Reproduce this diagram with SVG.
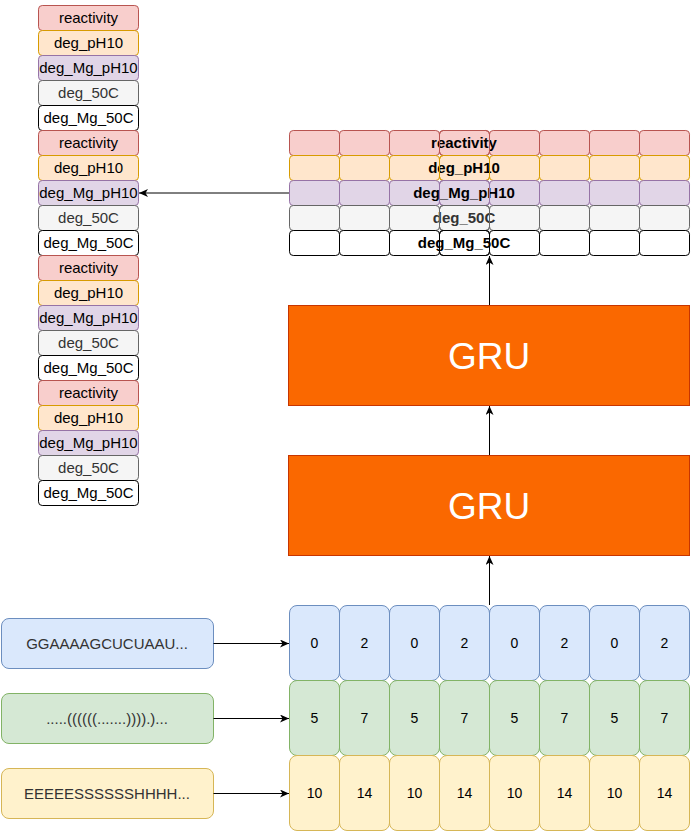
<svg xmlns="http://www.w3.org/2000/svg" width="692" height="833" viewBox="0 0 692 833">
<style>
text{font-family:"Liberation Sans",Arial,Helvetica,sans-serif;text-anchor:middle}
.t15{font-size:15px}
.t14{font-size:14px}
.b{font-weight:bold}
.r{fill:#f8cecc;stroke:#b85450}
.o{fill:#ffe6cc;stroke:#d79b00}
.p{fill:#e1d5e7;stroke:#9673a6}
.g{fill:#f5f5f5;stroke:#666666}
.w{fill:#ffffff;stroke:#000000}
.ro{fill:none;stroke:#b85450}
.oo{fill:none;stroke:#d79b00}
.po{fill:none;stroke:#9673a6}
.go{fill:none;stroke:#666666}
.wo{fill:none;stroke:#000000}
.bl{fill:#dae8fc;stroke:#6c8ebf}
.gr{fill:#d5e8d4;stroke:#82b366}
.ye{fill:#fff2cc;stroke:#d6b656}
.gru{fill:#fa6800;stroke:#c73500}
.gt{fill:#ffffff;font-size:37px}
.dk{fill:#333333}
.edge{stroke:#000;stroke-width:1;fill:none;marker-end:url(#arr)}
</style>
<defs>
<marker id="arr" markerUnits="userSpaceOnUse" viewBox="0 0 9 8" refX="9" refY="4" markerWidth="9" markerHeight="8" orient="auto">
<path d="M0,0 L9,4 L0,8 L2.5,4 Z" fill="#000"/>
</marker>
<g id="colc">
<rect class="r" x="0" y="0" width="100" height="25" rx="3.75"/>
<text class="t15" x="50" y="17.5">reactivity</text>
<rect class="o" x="0" y="25" width="100" height="25" rx="3.75"/>
<text class="t15" x="50" y="42.5">deg_pH10</text>
<rect class="p" x="0" y="50" width="100" height="25" rx="3.75"/>
<text class="t15" x="50" y="67.5">deg_Mg_pH10</text>
<rect class="g" x="0" y="75" width="100" height="25" rx="3.75"/>
<text class="t15 dk" x="50" y="92.5">deg_50C</text>
<rect class="w" x="0" y="100" width="100" height="25" rx="3.75"/>
<text class="t15" x="50" y="117.5">deg_Mg_50C</text>
</g>
</defs>

<g id="left-column">
<use href="#colc" x="38.5" y="5.5"/>
<use href="#colc" x="38.5" y="130.5"/>
<use href="#colc" x="38.5" y="255.5"/>
<use href="#colc" x="38.5" y="380.5"/>
</g>

<g id="output-table">
<g id="row-reactivity">
<rect class="r" x="289.5" y="130.5" width="50" height="25" rx="3.75"/><rect class="r" x="339.5" y="130.5" width="50" height="25" rx="3.75"/><rect class="r" x="389.5" y="130.5" width="50" height="25" rx="3.75"/><rect class="r" x="439.5" y="130.5" width="50" height="25" rx="3.75"/><rect class="r" x="489.5" y="130.5" width="50" height="25" rx="3.75"/><rect class="r" x="539.5" y="130.5" width="50" height="25" rx="3.75"/><rect class="r" x="589.5" y="130.5" width="50" height="25" rx="3.75"/><rect class="r" x="639.5" y="130.5" width="50" height="25" rx="3.75"/>
<text class="t15 b" x="464" y="148">reactivity</text>
<rect class="ro" x="439.5" y="130.5" width="50" height="25" rx="3.75"/>
</g>
<g id="row-deg_pH10">
<rect class="o" x="289.5" y="155.5" width="50" height="25" rx="3.75"/><rect class="o" x="339.5" y="155.5" width="50" height="25" rx="3.75"/><rect class="o" x="389.5" y="155.5" width="50" height="25" rx="3.75"/><rect class="o" x="439.5" y="155.5" width="50" height="25" rx="3.75"/><rect class="o" x="489.5" y="155.5" width="50" height="25" rx="3.75"/><rect class="o" x="539.5" y="155.5" width="50" height="25" rx="3.75"/><rect class="o" x="589.5" y="155.5" width="50" height="25" rx="3.75"/><rect class="o" x="639.5" y="155.5" width="50" height="25" rx="3.75"/>
<text class="t15 b" x="464" y="173">deg_pH10</text>
<rect class="oo" x="439.5" y="155.5" width="50" height="25" rx="3.75"/>
</g>
<g id="row-deg_Mg_pH10">
<rect class="p" x="289.5" y="180.5" width="50" height="25" rx="3.75"/><rect class="p" x="339.5" y="180.5" width="50" height="25" rx="3.75"/><rect class="p" x="389.5" y="180.5" width="50" height="25" rx="3.75"/><rect class="p" x="439.5" y="180.5" width="50" height="25" rx="3.75"/><rect class="p" x="489.5" y="180.5" width="50" height="25" rx="3.75"/><rect class="p" x="539.5" y="180.5" width="50" height="25" rx="3.75"/><rect class="p" x="589.5" y="180.5" width="50" height="25" rx="3.75"/><rect class="p" x="639.5" y="180.5" width="50" height="25" rx="3.75"/>
<text class="t15 b" x="464" y="198">deg_Mg_pH10</text>
<rect class="po" x="439.5" y="180.5" width="50" height="25" rx="3.75"/>
</g>
<g id="row-deg_50C">
<rect class="g" x="289.5" y="205.5" width="50" height="25" rx="3.75"/><rect class="g" x="339.5" y="205.5" width="50" height="25" rx="3.75"/><rect class="g" x="389.5" y="205.5" width="50" height="25" rx="3.75"/><rect class="g" x="439.5" y="205.5" width="50" height="25" rx="3.75"/><rect class="g" x="489.5" y="205.5" width="50" height="25" rx="3.75"/><rect class="g" x="539.5" y="205.5" width="50" height="25" rx="3.75"/><rect class="g" x="589.5" y="205.5" width="50" height="25" rx="3.75"/><rect class="g" x="639.5" y="205.5" width="50" height="25" rx="3.75"/>
<text class="t15 b dk" x="464" y="223">deg_50C</text>
<rect class="go" x="439.5" y="205.5" width="50" height="25" rx="3.75"/>
</g>
<g id="row-deg_Mg_50C">
<rect class="w" x="289.5" y="230.5" width="50" height="25" rx="3.75"/><rect class="w" x="339.5" y="230.5" width="50" height="25" rx="3.75"/><rect class="w" x="389.5" y="230.5" width="50" height="25" rx="3.75"/><rect class="w" x="439.5" y="230.5" width="50" height="25" rx="3.75"/><rect class="w" x="489.5" y="230.5" width="50" height="25" rx="3.75"/><rect class="w" x="539.5" y="230.5" width="50" height="25" rx="3.75"/><rect class="w" x="589.5" y="230.5" width="50" height="25" rx="3.75"/><rect class="w" x="639.5" y="230.5" width="50" height="25" rx="3.75"/>
<text class="t15 b" x="464" y="248">deg_Mg_50C</text>
<rect class="wo" x="439.5" y="230.5" width="50" height="25" rx="3.75"/>
</g>
</g>

<g id="gru-top">
<rect class="gru" x="288.5" y="305.5" width="401" height="100"/>
<text class="gt" x="489" y="368.5">GRU</text>
</g>
<g id="gru-bottom">
<rect class="gru" x="288.5" y="455.5" width="401" height="100"/>
<text class="gt" x="489" y="518.5">GRU</text>
</g>

<g id="input-sequence">
<rect class="bl" x="1.5" y="618.5" width="212" height="50" rx="7.5"/>
<text class="t15 dk" x="107" y="648.5">GGAAAAGCUCUAAU...</text>
</g>
<g id="input-structure">
<rect class="gr" x="1.5" y="693.5" width="212" height="50" rx="7.5"/>
<text class="t15 dk" x="107" y="723.5">.....((((((.......)))).)...</text>
</g>
<g id="input-loop">
<rect class="ye" x="1.5" y="768.5" width="212" height="50" rx="7.5"/>
<text class="t15 dk" x="107" y="798.5">EEEEESSSSSSHHHH...</text>
</g>

<g id="grid-sequence">
<rect class="bl" x="289.5" y="605.5" width="50" height="75" rx="7.5"/><text class="t14" x="314.5" y="648">0</text>
<rect class="bl" x="339.5" y="605.5" width="50" height="75" rx="7.5"/><text class="t14" x="364.5" y="648">2</text>
<rect class="bl" x="389.5" y="605.5" width="50" height="75" rx="7.5"/><text class="t14" x="414.5" y="648">0</text>
<rect class="bl" x="439.5" y="605.5" width="50" height="75" rx="7.5"/><text class="t14" x="464.5" y="648">2</text>
<rect class="bl" x="489.5" y="605.5" width="50" height="75" rx="7.5"/><text class="t14" x="514.5" y="648">0</text>
<rect class="bl" x="539.5" y="605.5" width="50" height="75" rx="7.5"/><text class="t14" x="564.5" y="648">2</text>
<rect class="bl" x="589.5" y="605.5" width="50" height="75" rx="7.5"/><text class="t14" x="614.5" y="648">0</text>
<rect class="bl" x="639.5" y="605.5" width="50" height="75" rx="7.5"/><text class="t14" x="664.5" y="648">2</text>
</g>
<g id="grid-structure">
<rect class="gr" x="289.5" y="680.5" width="50" height="75" rx="7.5"/><text class="t14" x="314.5" y="723">5</text>
<rect class="gr" x="339.5" y="680.5" width="50" height="75" rx="7.5"/><text class="t14" x="364.5" y="723">7</text>
<rect class="gr" x="389.5" y="680.5" width="50" height="75" rx="7.5"/><text class="t14" x="414.5" y="723">5</text>
<rect class="gr" x="439.5" y="680.5" width="50" height="75" rx="7.5"/><text class="t14" x="464.5" y="723">7</text>
<rect class="gr" x="489.5" y="680.5" width="50" height="75" rx="7.5"/><text class="t14" x="514.5" y="723">5</text>
<rect class="gr" x="539.5" y="680.5" width="50" height="75" rx="7.5"/><text class="t14" x="564.5" y="723">7</text>
<rect class="gr" x="589.5" y="680.5" width="50" height="75" rx="7.5"/><text class="t14" x="614.5" y="723">5</text>
<rect class="gr" x="639.5" y="680.5" width="50" height="75" rx="7.5"/><text class="t14" x="664.5" y="723">7</text>
</g>
<g id="grid-loop">
<rect class="ye" x="289.5" y="755.5" width="50" height="75" rx="7.5"/><text class="t14" x="314.5" y="798">10</text>
<rect class="ye" x="339.5" y="755.5" width="50" height="75" rx="7.5"/><text class="t14" x="364.5" y="798">14</text>
<rect class="ye" x="389.5" y="755.5" width="50" height="75" rx="7.5"/><text class="t14" x="414.5" y="798">10</text>
<rect class="ye" x="439.5" y="755.5" width="50" height="75" rx="7.5"/><text class="t14" x="464.5" y="798">14</text>
<rect class="ye" x="489.5" y="755.5" width="50" height="75" rx="7.5"/><text class="t14" x="514.5" y="798">10</text>
<rect class="ye" x="539.5" y="755.5" width="50" height="75" rx="7.5"/><text class="t14" x="564.5" y="798">14</text>
<rect class="ye" x="589.5" y="755.5" width="50" height="75" rx="7.5"/><text class="t14" x="614.5" y="798">10</text>
<rect class="ye" x="639.5" y="755.5" width="50" height="75" rx="7.5"/><text class="t14" x="664.5" y="798">14</text>
</g>

<g id="connectors">
<path class="edge" d="M213.5,643.5 H289"/>
<path class="edge" d="M213.5,718.5 H289"/>
<path class="edge" d="M213.5,793.5 H289"/>
<path class="edge" d="M489.5,605 V556"/>
<path class="edge" d="M489.5,455 V406"/>
<path class="edge" d="M489.5,305 V256"/>
<path class="edge" d="M289,193 H139"/>
</g>
</svg>
